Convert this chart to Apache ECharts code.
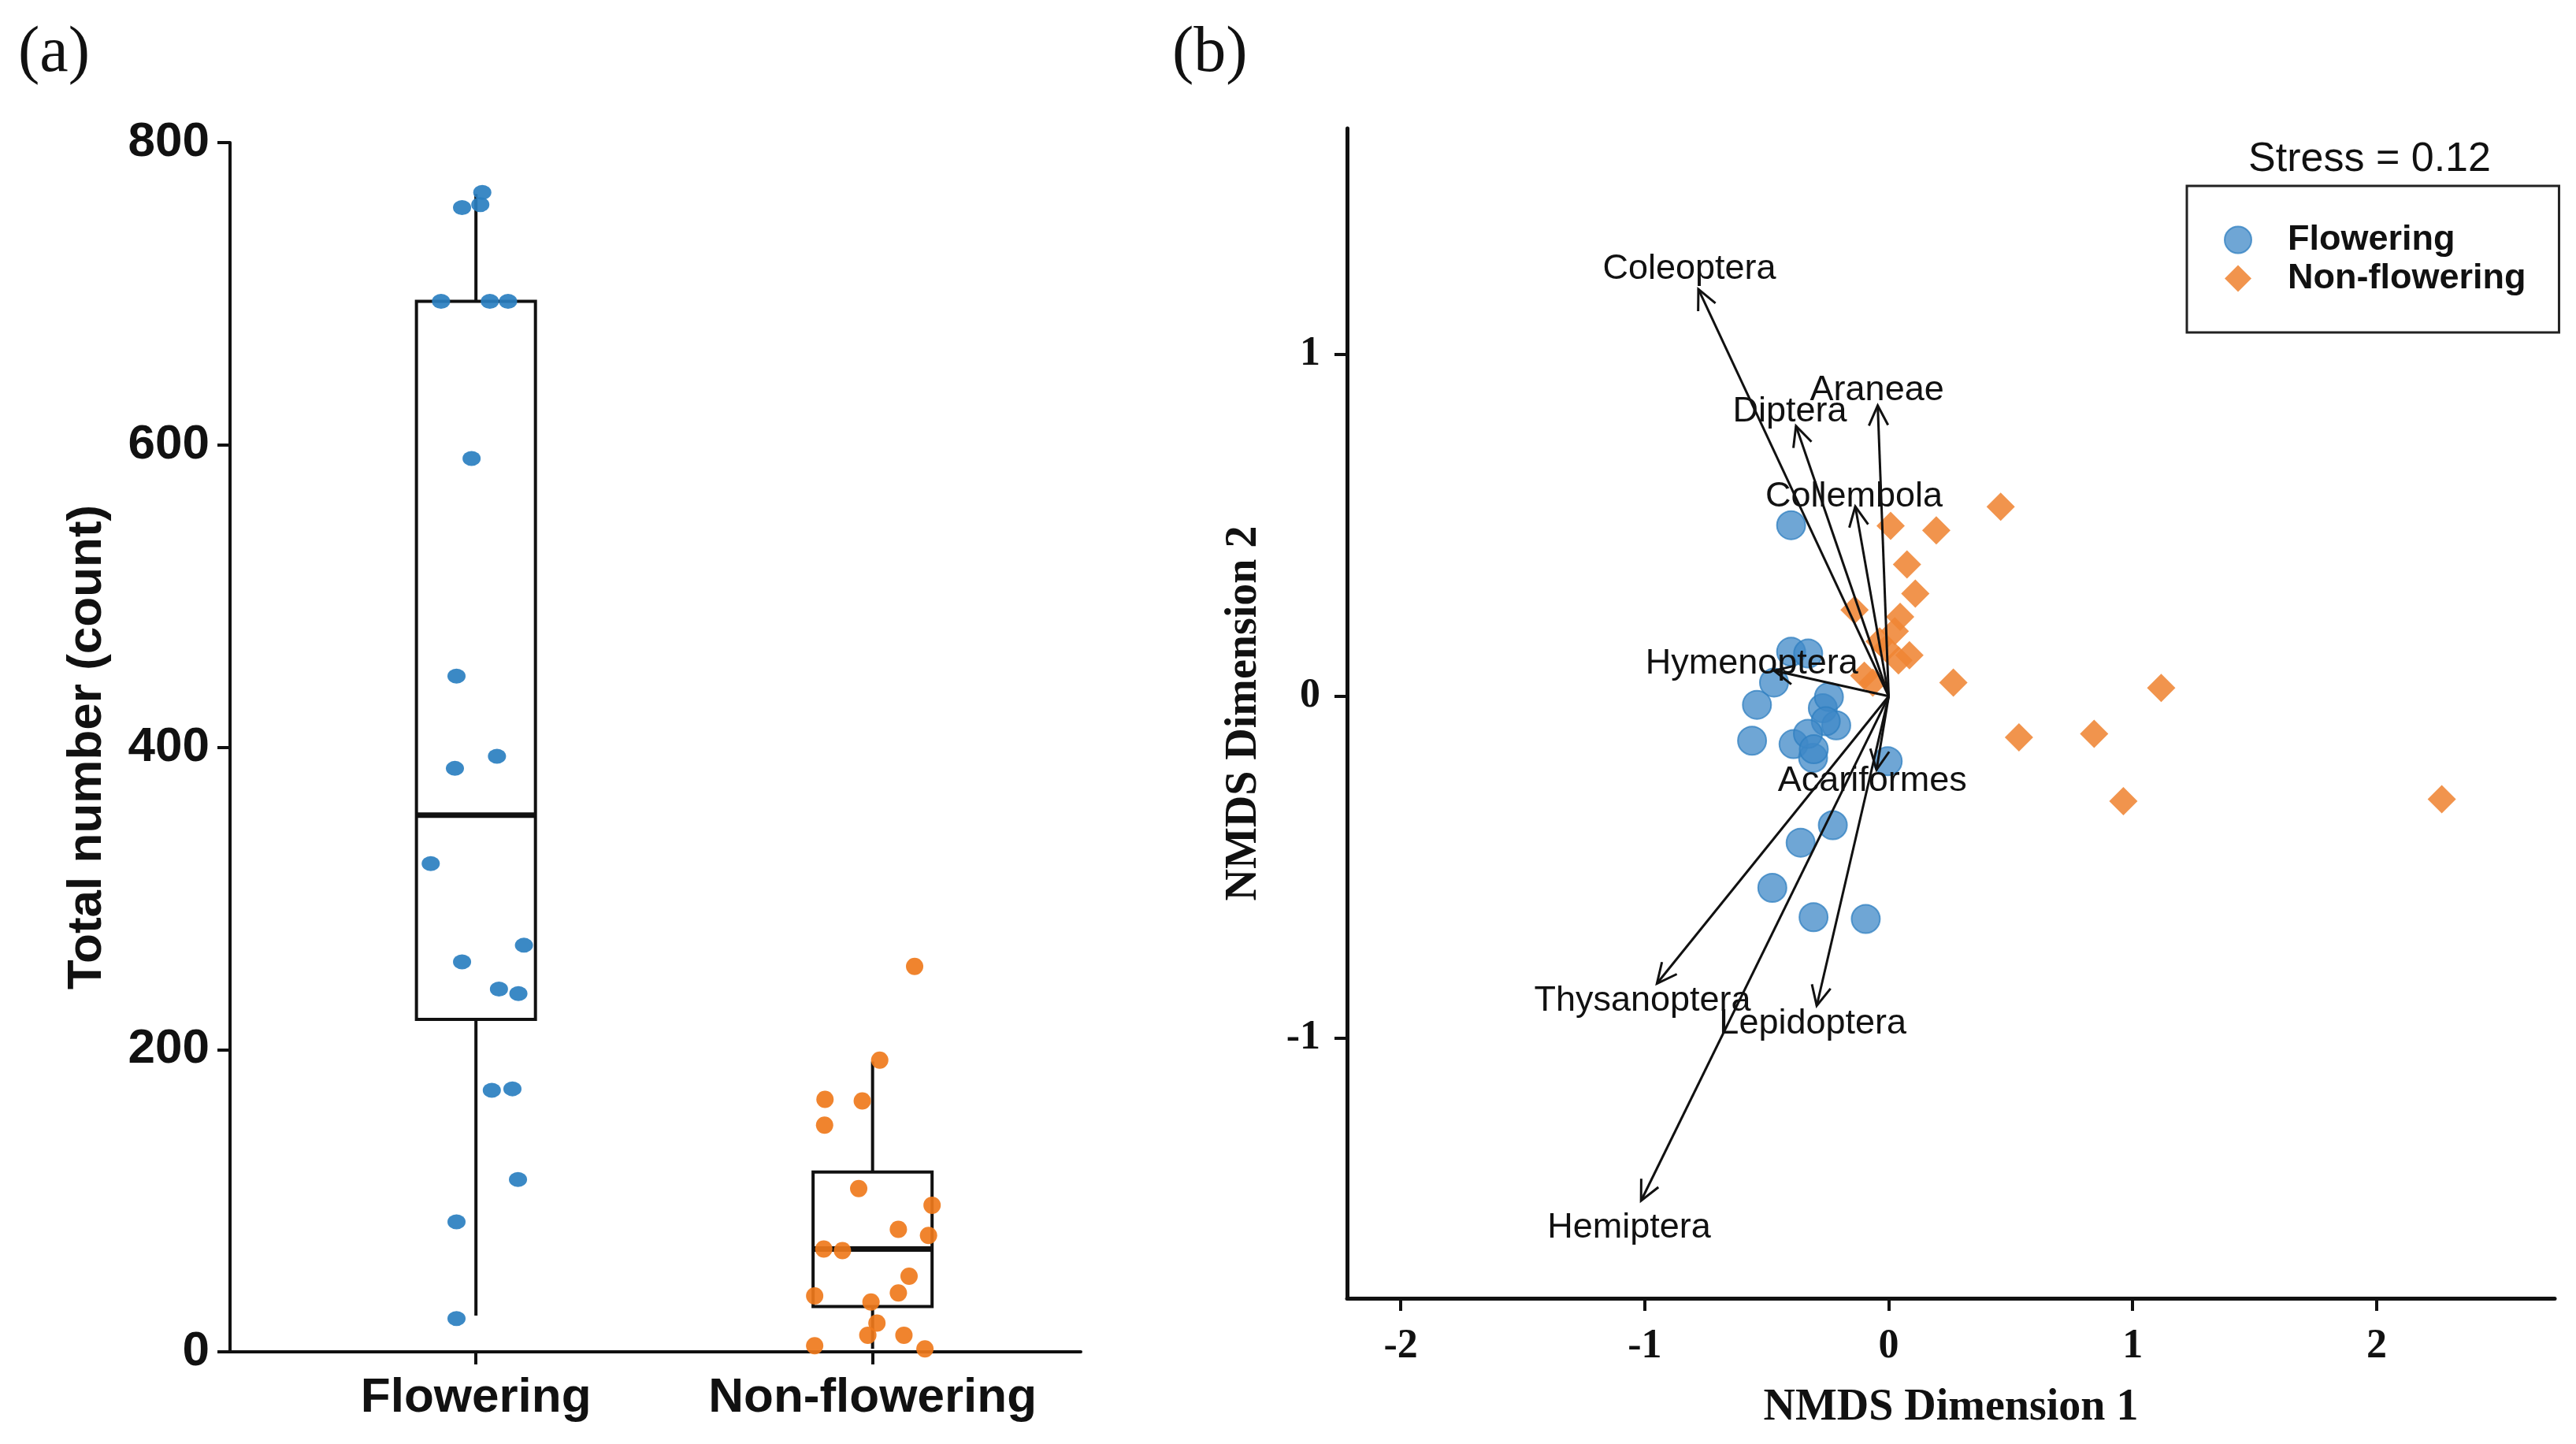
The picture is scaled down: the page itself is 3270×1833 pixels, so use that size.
<!DOCTYPE html>
<html>
<head>
<meta charset="utf-8">
<script src="https://cdn.jsdelivr.net/npm/echarts@6/dist/echarts.min.js"></script>
<style>
  html, body { margin: 0; padding: 0; background: #fff; }
  #chart { width: 3270px; height: 1833px; }
</style>
</head>
<body>
<div id="chart"></div>
<script>
// ---- panel (a): total number per group ----
const groups = ["Flowering", "Non-flowering"];
const groupPos = [1, 2];

const flowerCounts = [767, 759, 757, 695, 695, 695, 591, 447, 394, 386, 323, 269, 258, 240, 237, 174, 173, 114, 86, 22];
const flowerJitter = [0.016, 0.011, -0.035, -0.088, 0.035, 0.081, -0.011, -0.049, 0.053, -0.053, -0.114, 0.121, -0.035, 0.058, 0.107, 0.092, 0.040, 0.106, -0.049, -0.049];

const nonFlowerCounts = [255, 193, 167, 166, 150, 108, 97, 81, 77, 68, 67, 50, 39, 37, 33, 19, 11, 11, 4, 2];
const nonFlowerJitter = [0.106, 0.018, -0.120, -0.026, -0.121, -0.035, 0.150, 0.065, 0.141, -0.123, -0.076, 0.092, 0.065, -0.146, -0.004, 0.011, -0.012, 0.079, -0.146, 0.132];

// box statistics: lower whisker, Q1, median, Q3, upper whisker
const boxLow = [24, 2];
const boxQ1 = [220, 30];
const boxMedian = [355, 68];
const boxQ3 = [695, 119];
const boxHigh = [766, 192];

const countTicks = [0, 200, 400, 600, 800];

// ---- panel (b): NMDS ----
const flowerNmdsX = [-0.40, -0.40, -0.33, -0.47, -0.54, -0.56, -0.39, -0.31, -0.27, -0.245, -0.215, -0.258, -0.331, -0.004, -0.307, -0.361, -0.229, -0.477, -0.308, -0.094];
const flowerNmdsY = [0.50, 0.13, 0.125, 0.04, -0.025, -0.13, -0.14, -0.18, -0.035, -0.002, -0.085, -0.073, -0.11, -0.19, -0.155, -0.428, -0.377, -0.560, -0.646, -0.651];

const nonFlowerNmdsX = [0.459, 0.008, 0.195, 0.075, 0.109, -0.140, 0.047, 0.025, -0.037, -0.010, 0.085, 0.040, -0.100, -0.065, 0.265, 1.117, 0.534, 0.842, 0.962, 2.267];
const nonFlowerNmdsY = [0.554, 0.498, 0.485, 0.385, 0.300, 0.252, 0.232, 0.190, 0.160, 0.140, 0.120, 0.105, 0.060, 0.040, 0.040, 0.024, -0.120, -0.110, -0.307, -0.301];

const taxa = ["Coleoptera", "Diptera", "Araneae", "Collembola", "Hymenoptera", "Acariformes", "Thysanoptera", "Lepidoptera", "Hemiptera"];
const arrowX = [-0.78, -0.38, -0.045, -0.137, -0.47, -0.05, -0.95, -0.295, -1.015];
const arrowY = [1.19, 0.79, 0.85, 0.555, 0.075, -0.215, -0.84, -0.905, -1.475];
const labelX = [-0.817, -0.405, -0.048, -0.142, -0.561, -0.067, -1.009, -0.311, -1.064];
const labelY = [1.248, 0.832, 0.894, 0.583, 0.094, -0.249, -0.890, -0.957, -1.555];

const dimTicksX = [-2, -1, 0, 1, 2];
const dimTicksY = [-1, 0, 1];
const stressText = "Stress = 0.12";

const BLUE_A = "#2a7fc0";
const ORANGE_A = "#ef7a1c";
const BLUE_B = "#3f88c7";
const ORANGE_B = "#ef8534";
const SANS = "Liberation Sans";
const SERIF = "Liberation Serif";

const chart = echarts.init(document.getElementById("chart"), null, { renderer: "canvas" });

function renderBox(params, api) {
  const x = api.value(0);
  const hw = 0.15;
  const lo = api.coord([x, api.value(1)]);
  const q1l = api.coord([x - hw, api.value(2)]);
  const q1r = api.coord([x + hw, api.value(2)]);
  const medL = api.coord([x - hw, api.value(3)]);
  const medR = api.coord([x + hw, api.value(3)]);
  const q3l = api.coord([x - hw, api.value(4)]);
  const hi = api.coord([x, api.value(5)]);
  const q1c = api.coord([x, api.value(2)]);
  const q3c = api.coord([x, api.value(4)]);
  const line = { stroke: "#111", lineWidth: 4, fill: null };
  return {
    type: "group",
    children: [
      { type: "rect", shape: { x: q3l[0], y: q3l[1], width: q1r[0] - q1l[0], height: q1l[1] - q3l[1] }, style: line },
      { type: "line", shape: { x1: hi[0], y1: hi[1], x2: q3c[0], y2: q3c[1] }, style: line },
      { type: "line", shape: { x1: q1c[0], y1: q1c[1], x2: lo[0], y2: lo[1] }, style: line },
      { type: "line", shape: { x1: medL[0], y1: medL[1], x2: medR[0], y2: medR[1] }, style: { stroke: "#111", lineWidth: 7 } },
    ],
  };
}

function renderArrow(params, api) {
  const o = api.coord([0, 0]);
  const t = api.coord([api.value(0), api.value(1)]);
  const l = api.coord([api.value(2), api.value(3)]);
  const ang = Math.atan2(t[1] - o[1], t[0] - o[0]);
  const h = 28, spread = Math.PI / 7;
  const p1 = [t[0] - h * Math.cos(ang - spread), t[1] - h * Math.sin(ang - spread)];
  const p2 = [t[0] - h * Math.cos(ang + spread), t[1] - h * Math.sin(ang + spread)];
  const st = { stroke: "#111", lineWidth: 3, fill: null };
  return {
    type: "group",
    children: [
      { type: "line", shape: { x1: o[0], y1: o[1], x2: t[0], y2: t[1] }, style: st },
      { type: "polyline", shape: { points: [p1, t, p2] }, style: st },
      {
        type: "text", x: l[0], y: l[1],
        style: { text: taxa[params.dataIndex], fill: "#111", font: "45px '" + SANS + "'", align: "center", verticalAlign: "middle" },
      },
    ],
  };
}

const option = {
  backgroundColor: "#fff",
  animation: false,
  title: [
    { text: "(a)", left: 18, top: 22, textStyle: { fontFamily: SERIF, fontWeight: "normal", fontSize: 82, color: "#111" } },
    { text: "(b)", left: 1483, top: 22, textStyle: { fontFamily: SERIF, fontWeight: "normal", fontSize: 82, color: "#111" } },
    { text: stressText, left: 3003, top: 172, textAlign: "center", textStyle: { fontFamily: SANS, fontWeight: "normal", fontSize: 52, color: "#111" } },
  ],
  legend: {
    data: [
      { name: "Flowering", icon: "circle" },
      { name: "Non-flowering", icon: "diamond" },
    ],
    orient: "vertical",
    left: 2776,
    top: 236,
    padding: [46, 42, 46, 47],
    itemWidth: 34,
    itemHeight: 34,
    itemGap: 4,
    borderColor: "#222",
    borderWidth: 3,
    textStyle: { fontFamily: SANS, fontWeight: "bold", fontSize: 45, color: "#111", padding: [0, 0, 0, 41] },
  },
  grid: [
    { left: 292, top: 181, width: 1080, height: 1535 },
    { left: 1710, top: 163, width: 1533, height: 1485 },
  ],
  xAxis: [
    {
      gridIndex: 0, type: "value", min: 0.38, max: 2.525,
      splitLine: { show: false },
      axisLine: { onZero: false, lineStyle: { color: "#111", width: 4 } },
      axisTick: { customValues: groupPos, length: 16, lineStyle: { color: "#111", width: 4 } },
      axisLabel: {
        customValues: groupPos, margin: 28,
        formatter: (v) => groups[groupPos.indexOf(v)] || "",
        fontFamily: SANS, fontWeight: "bold", fontSize: 62, color: "#111",
      },
    },
    {
      gridIndex: 1, type: "value", min: -2.22, max: 2.73,
      name: "NMDS Dimension 1", nameLocation: "middle", nameGap: 112,
      nameTextStyle: { fontFamily: SERIF, fontWeight: "bold", fontSize: 56, color: "#111" },
      splitLine: { show: false },
      axisLine: { onZero: false, lineStyle: { color: "#111", width: 5 } },
      axisTick: { customValues: dimTicksX, length: 16, lineStyle: { color: "#111", width: 4 } },
      axisLabel: { customValues: dimTicksX, margin: 36, fontFamily: SERIF, fontWeight: "bold", fontSize: 52, color: "#111" },
    },
  ],
  yAxis: [
    {
      gridIndex: 0, type: "value", min: 0, max: 800, interval: 200,
      name: "Total number (count)", nameLocation: "middle", nameGap: 150,
      nameTextStyle: { fontFamily: SANS, fontWeight: "bold", fontSize: 62, color: "#111" },
      splitLine: { show: false },
      axisLine: { show: true, onZero: false, lineStyle: { color: "#111", width: 4 } },
      axisTick: { show: true, customValues: countTicks, length: 16, lineStyle: { color: "#111", width: 4 } },
      axisLabel: { customValues: countTicks, margin: 26, fontFamily: SANS, fontWeight: "bold", fontSize: 62, color: "#111" },
    },
    {
      gridIndex: 1, type: "value", min: -1.76, max: 1.66,
      name: "NMDS Dimension 2", nameLocation: "middle", nameGap: 102,
      nameTextStyle: { fontFamily: SERIF, fontWeight: "bold", fontSize: 56, color: "#111" },
      splitLine: { show: false },
      axisLine: { show: true, onZero: false, lineStyle: { color: "#111", width: 5 } },
      axisTick: { show: true, customValues: dimTicksY, length: 16, lineStyle: { color: "#111", width: 4 } },
      axisLabel: { customValues: dimTicksY, margin: 34, fontFamily: SERIF, fontWeight: "bold", fontSize: 52, color: "#111" },
    },
  ],
  series: [
    {
      name: "box", type: "custom", xAxisIndex: 0, yAxisIndex: 0,
      renderItem: renderBox, z: 2,
      data: groupPos.map((p, i) => [p, boxLow[i], boxQ1[i], boxMedian[i], boxQ3[i], boxHigh[i]]),
    },
    {
      name: "flowerCounts", type: "scatter", xAxisIndex: 0, yAxisIndex: 0, z: 3,
      symbol: "circle", symbolSize: [23, 19],
      itemStyle: { color: BLUE_A, opacity: 0.92 },
      data: flowerCounts.map((v, i) => [groupPos[0] + flowerJitter[i], v]),
    },
    {
      name: "nonFlowerCounts", type: "scatter", xAxisIndex: 0, yAxisIndex: 0, z: 3,
      symbol: "circle", symbolSize: 22,
      itemStyle: { color: ORANGE_A, opacity: 0.92 },
      data: nonFlowerCounts.map((v, i) => [groupPos[1] + nonFlowerJitter[i], v]),
    },
    {
      name: "Flowering", type: "scatter", xAxisIndex: 1, yAxisIndex: 1, z: 3,
      symbol: "circle", symbolSize: 36,
      itemStyle: { color: BLUE_B, opacity: 0.75, borderColor: "#2f7fc0", borderWidth: 2 },
      data: flowerNmdsX.map((x, i) => [x, flowerNmdsY[i]]),
    },
    {
      name: "Non-flowering", type: "scatter", xAxisIndex: 1, yAxisIndex: 1, z: 3,
      symbol: "diamond", symbolSize: 36,
      itemStyle: { color: ORANGE_B, opacity: 0.88 },
      data: nonFlowerNmdsX.map((x, i) => [x, nonFlowerNmdsY[i]]),
    },
    {
      name: "arrows", type: "custom", xAxisIndex: 1, yAxisIndex: 1, z: 5,
      renderItem: renderArrow,
      data: arrowX.map((x, i) => [x, arrowY[i], labelX[i], labelY[i]]),
    },
  ],
};

chart.setOption(option);
</script>
</body>
</html>
